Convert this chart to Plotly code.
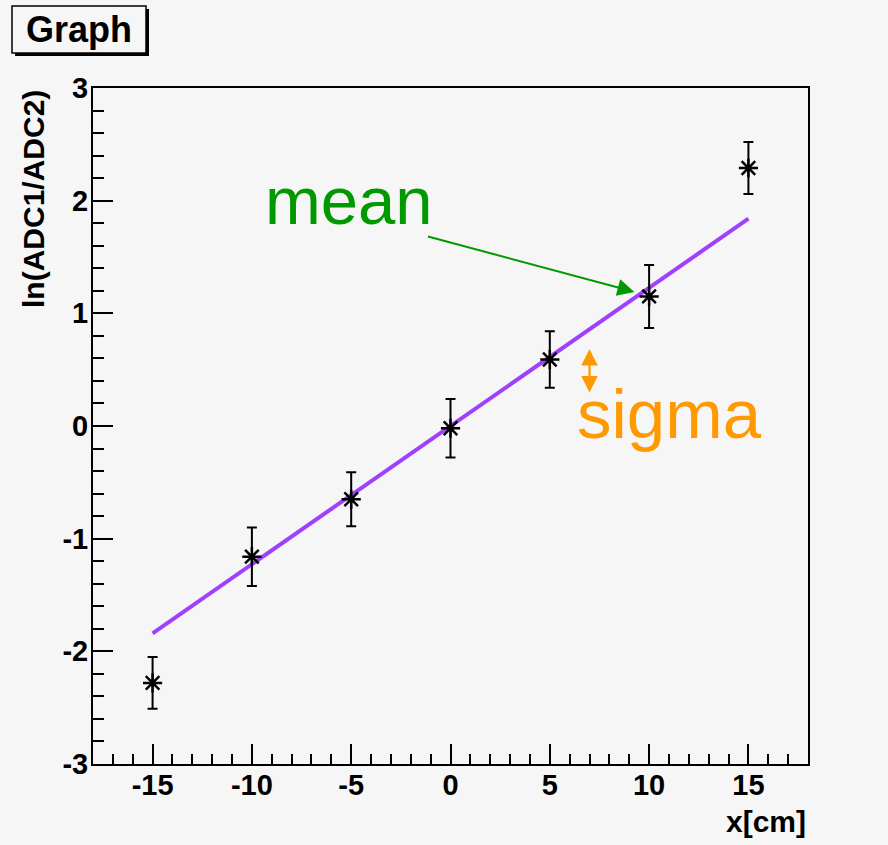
import plotly.graph_objects as go

# ---- data ----
x_pos = [-15, -10, -5, 0, 5, 10, 15]
y_val = [-2.28, -1.16, -0.65, -0.02, 0.59, 1.15, 2.29]
y_err = [0.23, 0.26, 0.24, 0.26, 0.25, 0.28, 0.23]
fit_x = [-15, 15]
fit_y = [-1.84, 1.84]

x_tickvals = [-15, -10, -5, 0, 5, 10, 15]
x_ticktext = ["-15", "-10", "-5", "0", "5", "10", "15"]
y_tickvals = [-3, -2, -1, 0, 1, 2, 3]
y_ticktext = ["-3", "-2", "-1", "0", "1", "2", "3"]

x_title = "x[cm]"
y_title = "ln(ADC1/ADC2)"
graph_title = "Graph"

BG = "#f6f6f6"
FONT = "Liberation Sans, Arial, sans-serif"

fig = go.Figure()

fig.add_trace(go.Scatter(
    x=fit_x, y=fit_y, mode="lines",
    line=dict(color="#a040ff", width=4), showlegend=False, hoverinfo="skip"))

fig.add_trace(go.Scatter(
    x=x_pos, y=y_val, mode="markers",
    marker=dict(symbol="asterisk-open", size=16, color="black",
                line=dict(color="black", width=2.5)),
    error_y=dict(type="data", array=y_err, visible=True,
                 color="black", thickness=2, width=5),
    showlegend=False))

fig.update_layout(
    width=888, height=845,
    margin=dict(l=93, r=80, t=88, b=81),
    paper_bgcolor=BG, plot_bgcolor=BG,
    font=dict(family=FONT, color="black"),
    xaxis=dict(range=[-18, 18], tickmode="array", tickvals=x_tickvals,
               ticktext=x_ticktext,
               ticks="inside", ticklen=20, tickwidth=1.5, tickcolor="black",
               minor=dict(dtick=1, tick0=0, ticks="inside", ticklen=10,
                          tickwidth=1.5, tickcolor="black", showgrid=False),
               showline=True, linecolor="black", linewidth=2, mirror=True,
               showgrid=False, zeroline=False,
               tickfont=dict(size=29, family=FONT, weight="bold"),
               ticklabelstandoff=-6),
    yaxis=dict(range=[-3, 3], tickmode="array", tickvals=y_tickvals,
               ticktext=y_ticktext,
               ticks="inside", ticklen=20, tickwidth=1.5, tickcolor="black",
               minor=dict(dtick=0.2, tick0=0, ticks="inside", ticklen=11,
                          tickwidth=1.5, tickcolor="black", showgrid=False),
               showline=True, linecolor="black", linewidth=2, mirror=True,
               showgrid=False, zeroline=False,
               tickfont=dict(size=29, family=FONT, weight="bold"),
               ticklabelstandoff=-3),
)

def px_x(p):
    return (p - 93) / 715.0

def px_y(p):
    return (764 - p) / 676.0

# title box with shadow
fig.add_shape(type="rect", xref="paper", yref="paper",
              x0=px_x(15), x1=px_x(149), y0=px_y(56), y1=px_y(9),
              fillcolor="black", line=dict(color="black", width=0))
fig.add_shape(type="rect", xref="paper", yref="paper",
              x0=px_x(12), x1=px_x(146), y0=px_y(53), y1=px_y(6),
              fillcolor=BG, line=dict(color="black", width=1.5))
fig.add_annotation(xref="paper", yref="paper", x=px_x(79), y=px_y(30),
                   text=graph_title, showarrow=False,
                   xanchor="center", yanchor="middle",
                   font=dict(size=36, family=FONT, weight="bold", color="black"))

# axis titles
fig.add_annotation(xref="paper", yref="paper", x=px_x(33), y=1.0,
                   text=y_title, textangle=-90, showarrow=False,
                   xanchor="center", yanchor="top",
                   font=dict(size=30, family=FONT, weight="bold", color="black"))
fig.add_annotation(xref="paper", yref="paper", x=1.0, y=px_y(821),
                   text=x_title, showarrow=False,
                   xanchor="right", yanchor="middle",
                   font=dict(size=30, family=FONT, weight="bold", color="black"))

# mean / sigma labels
fig.add_annotation(x=-5.1, y=2.0, text="mean", showarrow=False,
                   xanchor="center", yanchor="middle",
                   font=dict(size=67, family=FONT, color="#009900"))
fig.add_annotation(x=11.05, y=0.1, text="sigma", showarrow=False,
                   xanchor="center", yanchor="middle",
                   font=dict(size=69, family=FONT, color="#ff9900"))

# green arrow
fig.add_annotation(x=9.26, y=1.19, ax=-1.21, ay=1.686, axref="x", ayref="y",
                   text="", showarrow=True, arrowhead=2, arrowsize=1.7,
                   arrowwidth=2, arrowcolor="#009900", standoff=0)
# orange double arrow
fig.add_annotation(x=7.0, y=0.683, ax=7.0, ay=0.284, axref="x", ayref="y",
                   text="", showarrow=True, arrowhead=2, startarrowhead=2,
                   arrowside="end+start", arrowsize=1.5, startarrowsize=1.5,
                   arrowwidth=2.2, arrowcolor="#ff9900", standoff=0, startstandoff=0)

fig.write_html("out.html")
